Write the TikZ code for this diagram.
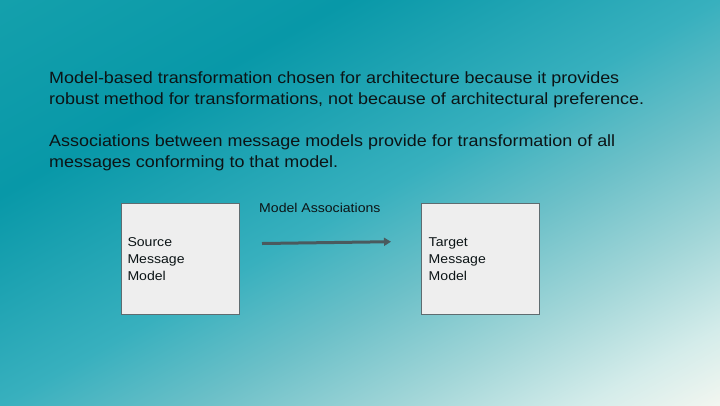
\documentclass[tikz,border=0pt]{standalone}
\usepackage{fontspec}
\setmainfont{Liberation Sans}[FakeStretch=1.1]
\definecolor{bgA}{HTML}{14A0AC}
\definecolor{bgB}{HTML}{0898A8}
\definecolor{bgC}{HTML}{38B0BE}
\definecolor{bgD}{HTML}{6CC0C8}
\definecolor{bgE}{HTML}{A2D6D8}
\definecolor{bgF}{HTML}{D4ECEA}
\definecolor{bgG}{HTML}{F2F6F0}
\definecolor{boxfill}{HTML}{EEEEEE}
\definecolor{boxline}{HTML}{5E6C70}
\definecolor{arrowcol}{HTML}{4A5A5E}
\definecolor{txt}{HTML}{0C1416}
\pgfdeclarehorizontalshading{bgshade}{100bp}{color(0bp)=(bgA); color(27.94bp)=(bgA); color(38.57bp)=(bgB); color(50bp)=(bgC); color(56.07bp)=(bgD); color(62.32bp)=(bgE); color(67.94bp)=(bgF); color(72.06bp)=(bgG); color(100bp)=(bgG)}
\usetikzlibrary{arrows.meta}
\tikzset{
  bodyline/.style={anchor=base west, inner sep=0pt, text=txt, font=\fontsize{16.3bp}{21bp}\selectfont},
  modelbox/.style={draw=boxline, line width=1bp, fill=boxfill, minimum width=118bp, minimum height=111bp, inner sep=0pt},
  boxtext/.style={anchor=base west, inner sep=0pt, text=txt, font=\fontsize{12.8bp}{17bp}\selectfont},
  assoc/.style={draw=arrowcol, line width=3bp, -{Triangle[length=7bp,width=8bp]}}
}
\begin{document}
\begin{tikzpicture}[x=1bp,y=-1bp]
\useasboundingbox (0,0) rectangle (720,405);
\begin{scope}
\clip (0,0) rectangle (720,405);
\shade[shading=bgshade, shading angle=-60.6] (-40,-197.5) rectangle (760,602.5);
\end{scope}
\node[bodyline] (l1) at (49,83.7) {Model-based transformation chosen for architecture because it provides};
\node[bodyline] (l2) at (49,104.5) {robust method for transformations, not because of architectural preference.};
\node[bodyline] (l3) at (49,146.7) {Associations between message models provide for transformation of all};
\node[bodyline] (l4) at (49,167.4) {messages conforming to that model.};
\node[modelbox, anchor=north west] (src) at (120.5,202.5) {};
\node[modelbox, anchor=north west] (tgt) at (421,202.5) {};
\node[boxtext] (s1) at (127.3,246.7) {Source};
\node[boxtext] (s2) at (127.3,263.7) {Message};
\node[boxtext] (s3) at (127.3,280.7) {Model};
\node[boxtext] (t1) at (428.5,246.7) {Target};
\node[boxtext] (t2) at (428.5,263.7) {Message};
\node[boxtext] (t3) at (428.5,280.7) {Model};
\node[boxtext] (lab) at (259,212.5) {Model Associations};
\coordinate (a0) at (262,243.5);
\coordinate (a1) at (391,241.7);
\draw[assoc] (a0) -- (a1);
\end{tikzpicture}
\end{document}
